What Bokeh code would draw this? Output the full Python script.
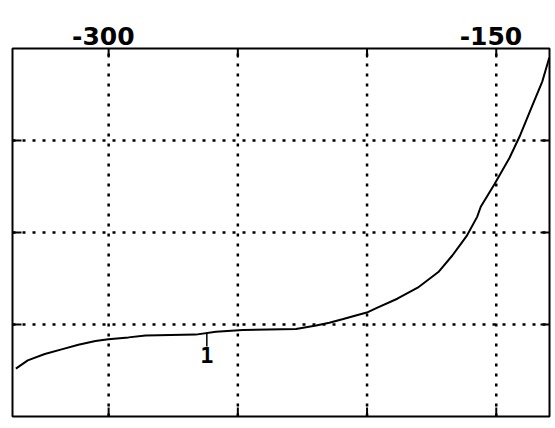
import numpy as np
from bokeh.plotting import figure
from bokeh.models import Range1d
from bokeh.core.properties import value
from bokeh.embed import file_html
from bokeh.resources import INLINE

# ---- data ----
curve_x = [-335.9, -331.3, -324.7, -318.2, -311.7, -305.1, -300.1, -292.3, -285.7,
           -266.3, -258.5, -248.1, -227.5, -219.7, -214.6, -209.2, -204.0, -200.1,
           -196.2, -188.3, -180.4, -172.4, -167.0, -161.5, -157.4, -156.0, -150.6,
           -144.9, -140.7, -136.5, -132.2, -129.5]
curve_y = [0.52, 0.61, 0.68, 0.73, 0.78, 0.82, 0.84, 0.86, 0.88,
           0.89, 0.92, 0.94, 0.95, 0.99, 1.02, 1.06, 1.10, 1.13,
           1.18, 1.28, 1.40, 1.57, 1.75, 1.96, 2.17, 2.28, 2.53,
           2.81, 3.06, 3.35, 3.64, 3.90]

x_ticks = [-300, -250, -200, -150]
y_ticks = [1, 2, 3]
x_lo, x_hi = -337.2, -129.4      # plotted x extent (box)
y_lo, y_hi = 0, 4                # plotted y extent (box)
top_label_x = [-300, -150]
top_label_text = ["-300", "-150"]
marker_x = -262
marker_text = "1"

# pixel scales used for fixed-length tick marks
PX_X = 537 / (x_hi - x_lo)
PX_Y = 368 / (y_hi - y_lo)
pad_x = 2 / PX_X

p = figure(width=551, height=418, output_backend="svg", toolbar_location=None,
           x_range=Range1d(x_lo - pad_x, x_hi + pad_x),
           y_range=Range1d(y_lo - 2 / PX_Y, y_hi + 48 / PX_Y),
           x_axis_location=None, y_axis_location=None,
           min_border_left=10, min_border_right=0, min_border_top=0, min_border_bottom=0)
p.background_fill_color = "white"
p.border_fill_color = "white"
p.outline_line_color = None
p.grid.visible = False

ink = "black"
# dotted grid
p.segment(x0=x_ticks, y0=[y_lo] * len(x_ticks), x1=x_ticks, y1=[y_hi] * len(x_ticks),
          line_color=ink, line_width=2.5, line_dash="3 7")
p.segment(x0=[x_lo] * len(y_ticks), y0=y_ticks, x1=[x_hi] * len(y_ticks), y1=y_ticks,
          line_color=ink, line_width=2.5, line_dash="3 7")

# inward ticks on the box
tl = 9
p.segment(x0=x_ticks, y0=[y_lo] * 4, x1=x_ticks, y1=[y_lo + tl / PX_Y] * 4, line_color=ink, line_width=2)
p.segment(x0=x_ticks, y0=[y_hi] * 4, x1=x_ticks, y1=[y_hi - tl / PX_Y] * 4, line_color=ink, line_width=2)
p.segment(x0=[x_lo] * 3, y0=y_ticks, x1=[x_lo + tl / PX_X] * 3, y1=y_ticks, line_color=ink, line_width=2)
p.segment(x0=[x_hi] * 3, y0=y_ticks, x1=[x_hi - tl / PX_X] * 3, y1=y_ticks, line_color=ink, line_width=2)

# box
p.quad(left=[x_lo], right=[x_hi], bottom=[y_lo], top=[y_hi], fill_color=None,
       line_color=ink, line_width=2)

# curve
p.line(curve_x, curve_y, line_width=2, line_color=ink)

# top labels
p.text(x=top_label_x, y=[y_hi + 13 / PX_Y] * 2, text=top_label_text, text_align="right",
       x_offset=26, text_baseline="alphabetic", text_font=value("DejaVu Sans"),
       text_font_size="25px", text_font_style="bold", text_color=ink)

# curve marker "1"
stem_top = float(np.interp(marker_x, curve_x, curve_y))
stem_end = 0.76
p.segment(x0=[marker_x], y0=[stem_top], x1=[marker_x], y1=[stem_end],
          line_color=ink, line_width=1.5)
p.text(x=[marker_x], y=[stem_end], text=[marker_text], text_align="center",
       text_baseline="top", text_font=value("DejaVu Sans Mono"),
       text_font_size="22px", text_font_style="bold", text_color=ink)

open("out.html", "w").write(file_html(p, INLINE))
